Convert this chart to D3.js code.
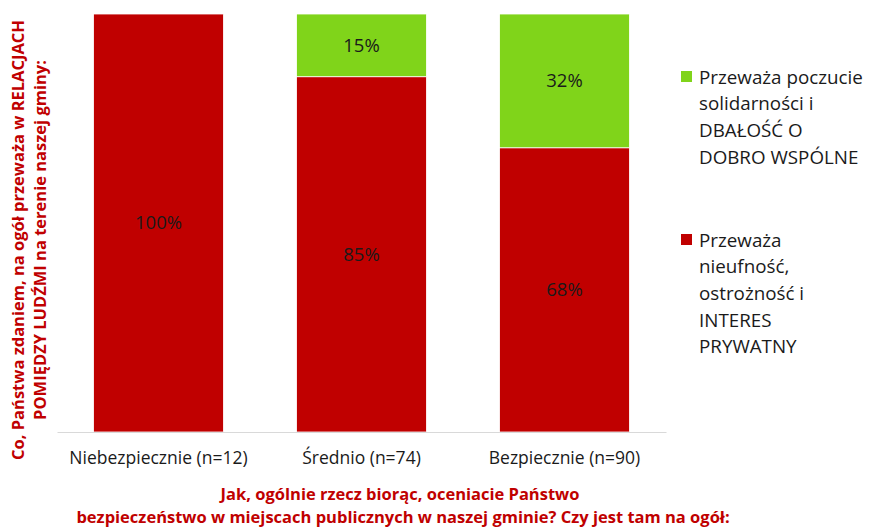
<!DOCTYPE html>
<html>
<head>
<meta charset="utf-8">
<script src="https://cdn.jsdelivr.net/npm/d3@7"></script>
<style>
  body { margin: 0; background: #fff; }
  svg { font-family: "Open Sans", sans-serif; }
</style>
</head>
<body>
<svg id="chart" width="869" height="527"></svg>
<script>
/* global d3 */
var categories = ["Niebezpiecznie (n=12)", "Średnio (n=74)", "Bezpiecznie (n=90)"];
var nieufnosc = [100, 85, 68];
var solidarnosc = [0, 15, 32];
var seriesNames = ["Przeważa nieufność, ostrożność i INTERES PRYWATNY",
                   "Przeważa poczucie solidarności i DBAŁOŚĆ O DOBRO WSPÓLNE"];

var red = "#c00000";
var green = "#80d41a";

var svg = d3.select("#chart");

var x = d3.scaleBand()
    .domain(categories)
    .range([57, 666])
    .paddingInner(0.36)
    .paddingOuter(0.18);

var y = d3.scaleLinear()
    .domain([0, 100])
    .range([432, 14]);

// stack
var rows = categories.map(function (c, i) {
    return { cat: c, red: nieufnosc[i], green: solidarnosc[i] };
});
var stack = d3.stack().keys(["red", "green"]);
var layers = stack(rows);
var colors = { red: red, green: green };

var g = svg.append("g");

layers.forEach(function (layer) {
    var segs = g.append("g").selectAll("g")
        .data(layer.filter(d => d[1] - d[0] > 0))
        .enter().append("g");

    segs.append("rect")
        .attr("x", d => x(d.data.cat))
        .attr("width", x.bandwidth())
        .attr("y", d => y(d[1]))
        .attr("height", d => y(d[0]) - y(d[1]))
        .attr("fill", colors[layer.key])
        .attr("stroke", "#fff")
        .attr("stroke-width", 0.8);

    segs.append("text")
        .attr("x", d => x(d.data.cat) + x.bandwidth() / 2)
        .attr("y", d => (y(d[0]) + y(d[1])) / 2)
        .attr("dy", "0.35em")
        .attr("text-anchor", "middle")
        .attr("font-size", 18.5)
        .attr("fill", "#1a1a1a")
        .text(d => (d[1] - d[0]) + "%");
});

// x axis
var xAxis = svg.append("g")
    .attr("transform", "translate(0,432)")
    .call(d3.axisBottom(x).tickSize(0).tickPadding(20));
xAxis.select(".domain").attr("stroke", "#d9d9d9").attr("stroke-width", 1.2);
xAxis.selectAll("text")
    .attr("font-family", "'Open Sans', sans-serif")
    .attr("font-size", 17.5)
    .attr("fill", "#1a1a1a");

// y axis title
var yTitle = svg.append("text")
    .attr("transform", "translate(18,240) rotate(-90)")
    .attr("text-anchor", "middle")
    .attr("font-size", 16.5)
    .attr("font-weight", "bold")
    .attr("fill", red);
yTitle.append("tspan").attr("x", 0).attr("dy", "0.35em")
    .text("Co, Państwa zdaniem, na ogół przeważa w RELACJACH");
yTitle.append("tspan").attr("x", 0).attr("dy", "1.35em")
    .text("POMIĘDZY LUDŹMI na terenie naszej gminy:");

// x axis title
var xTitle = svg.append("text")
    .attr("text-anchor", "middle")
    .attr("font-size", 16.5)
    .attr("font-weight", "bold")
    .attr("fill", red);
xTitle.append("tspan").attr("x", 400).attr("y", 500)
    .text("Jak, ogólnie rzecz biorąc, oceniacie Państwo");
xTitle.append("tspan").attr("x", 403).attr("y", 523)
    .text("bezpieczeństwo w miejscach publicznych w naszej gminie? Czy jest tam na ogół:");

// legend
var legendItems = [
    { color: green, lines: ["Przeważa poczucie", "solidarności i", "DBAŁOŚĆ O", "DOBRO WSPÓLNE"], y: 77 },
    { color: red, lines: ["Przeważa", "nieufność,", "ostrożność i", "INTERES", "PRYWATNY"], y: 240 }
];
var legend = svg.append("g").selectAll("g")
    .data(legendItems)
    .enter().append("g");

legend.append("rect")
    .attr("x", 681)
    .attr("y", d => d.y - 6)
    .attr("width", 11)
    .attr("height", 11)
    .attr("fill", d => d.color);

legend.each(function (d) {
    var t = d3.select(this).append("text")
        .attr("font-size", 18.8)
        .attr("fill", "#1a1a1a");
    d.lines.forEach(function (line, i) {
        t.append("tspan")
            .attr("x", 699)
            .attr("y", d.y + i * 26.7)
            .attr("dy", "0.35em")
            .text(line);
    });
});
</script>
</body>
</html>
